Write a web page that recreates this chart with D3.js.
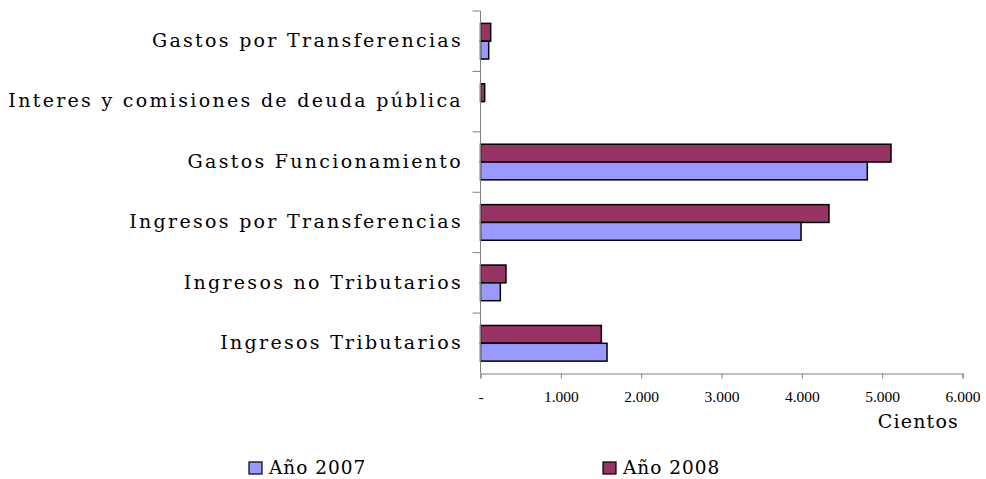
<!DOCTYPE html>
<html lang="es">
<head>
  <meta charset="UTF-8">
  <title>Ingresos y gastos 2007 - 2008</title>
  <script src="https://d3js.org/d3.v7.min.js"></script>
  <style>
    body {
      margin: 0;
      background: #ffffff;
    }

    svg {
      display: block;
      font-family: "DejaVu Serif", serif;
    }

    .cat-label {
      font-size: 19px;
      letter-spacing: 2.3px;
      fill: #000;
    }

    .bar {
      stroke: #000;
      stroke-width: 1.5;
    }
  </style>
</head>
<body>

<svg width="986" height="479"></svg>

<script>
  // Categories, top to bottom
  const categories = [
    "Gastos por Transferencias",
    "Interes y comisiones de deuda pública",
    "Gastos Funcionamiento",
    "Ingresos por Transferencias",
    "Ingresos no Tributarios",
    "Ingresos Tributarios"
  ];

  // Values in "cientos"
  const values2007 = [102, 0, 4815, 3990, 247, 1575];
  const values2008 = [127, 52, 5110, 4338, 317, 1504];

  const seriesNames = ["Año 2008", "Año 2007"];
  const seriesColors = ["#993366", "#9999ff"];

  const xTicks = [0, 1000, 2000, 3000, 4000, 5000, 6000];

  const svg = d3.select("svg"),
        margin = {top: 11, left: 480.5},
        width = 962.5 - margin.left,
        height = 373.5 - margin.top;

  const chart = svg.append("g")
      .attr("transform", `translate(${margin.left},${margin.top})`);

  const x = d3.scaleLinear()
      .domain([0, 6000])
      .range([0, width]);

  const y = d3.scaleBand()
      .domain(categories)
      .range([0, height])
      .paddingInner(0.41)
      .paddingOuter(0.205);

  const inner = d3.scaleBand()
      .domain(seriesNames)
      .range([0, y.bandwidth()]);

  const rows = categories.map((c, i) => ({
    cat: c,
    vals: [values2008[i], values2007[i]]
  }));

  const locale = d3.formatLocale({decimal: ",", thousands: ".", grouping: [3], currency: ["", ""]});
  const fmt = locale.format(",d");

  // Bars
  const groups = chart.selectAll(".row")
      .data(rows)
      .enter()
      .append("g")
      .attr("class", "row")
      .attr("transform", d => `translate(0,${y(d.cat)})`);

  groups.selectAll("rect")
      .data(d => d.vals.map((v, j) => ({name: seriesNames[j], value: v, color: seriesColors[j]})))
      .enter()
      .filter(d => d.value > 0)
      .append("rect")
      .attr("class", "bar")
      .attr("x", x(0))
      .attr("y", d => inner(d.name))
      .attr("width", d => x(d.value) - x(0))
      .attr("height", inner.bandwidth())
      .attr("fill", d => d.color);

  // Y axis (category ticks between bands)
  const boundaries = d3.range(categories.length + 1).map(i => i * height / categories.length);

  chart.append("line")
      .attr("x1", 0).attr("x2", 0)
      .attr("y1", 0).attr("y2", height)
      .attr("stroke", "#808080")
      .attr("stroke-width", 1);

  chart.selectAll(".ytick")
      .data(boundaries.slice(0, -1))
      .enter()
      .append("line")
      .attr("x1", -8).attr("x2", 0)
      .attr("y1", d => d).attr("y2", d => d)
      .attr("stroke", "#808080");

  chart.selectAll(".cat-label")
      .data(categories)
      .enter()
      .append("text")
      .attr("class", "cat-label")
      .attr("x", -17.5)
      .attr("y", (d, i) => (boundaries[i] + boundaries[i + 1]) / 2)
      .attr("dy", "0.3em")
      .attr("text-anchor", "end")
      .text(d => d);

  // X axis
  const xAxis = chart.append("g")
      .attr("transform", `translate(0,${height})`)
      .call(d3.axisBottom(x).tickValues(xTicks).tickSize(5).tickFormat(d => d === 0 ? "-" : fmt(d)));

  xAxis.select(".domain").attr("stroke", "#808080");
  xAxis.selectAll(".tick line").attr("stroke", "#808080");
  xAxis.selectAll(".tick text")
      .attr("y", 28)
      .attr("dy", 0)
      .attr("fill", "#000")
      .style("font-family", "'Liberation Serif', serif")
      .style("font-size", "15.5px");

  // Axis title
  svg.append("text")
      .attr("x", 959)
      .attr("y", 428)
      .attr("text-anchor", "end")
      .style("font-size", "19px")
      .style("letter-spacing", "1.2px")
      .text("Cientos");

  // Legend
  const legendX = [249, 603];
  const legendOrder = ["Año 2007", "Año 2008"];
  const legend = svg.selectAll(".legend")
      .data(legendOrder)
      .enter()
      .append("g")
      .attr("class", "legend")
      .attr("transform", (d, i) => `translate(${legendX[i]},462)`);

  legend.append("rect")
      .attr("width", 13)
      .attr("height", 12)
      .attr("fill", d => seriesColors[seriesNames.indexOf(d)])
      .attr("stroke", "#000")
      .attr("stroke-width", 1.2);

  legend.append("text")
      .attr("x", 20)
      .attr("y", 12)
      .style("font-size", "18.5px")
      .style("letter-spacing", "1px")
      .text(d => d);
</script>

</body>
</html>
